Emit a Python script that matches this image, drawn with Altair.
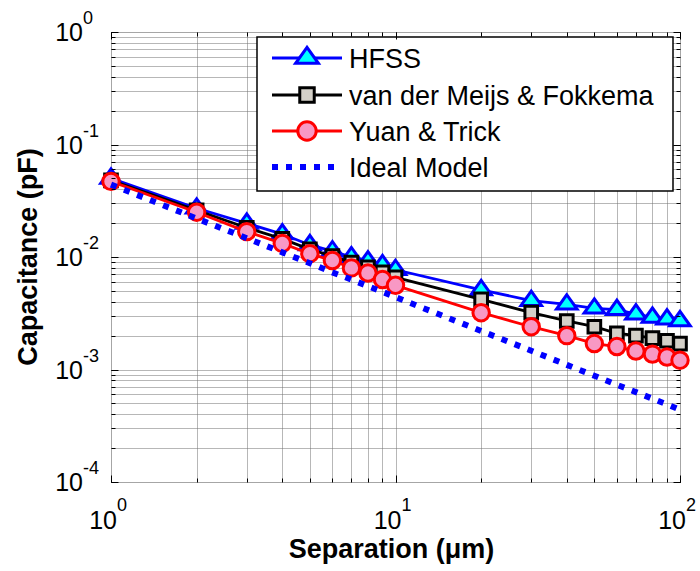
import altair as alt
import pandas as pd

# Capacitance vs. separation (log-log), one value per separation point
separation = [1, 2, 3, 4, 5, 6, 7, 8, 9, 10, 20, 30, 40, 50, 60, 70, 80, 90, 100]
hfss = [0.050, 0.0271, 0.0199, 0.0160, 0.0128, 0.0113, 0.0100, 0.0092, 0.0085, 0.0077,
        0.0051, 0.0041, 0.0038, 0.0035, 0.0034, 0.0031, 0.0029, 0.0028, 0.0027]
meijs = [0.048, 0.026, 0.0182, 0.0145, 0.0117, 0.0102, 0.0089, 0.0081, 0.0073, 0.0066,
         0.0042, 0.0032, 0.0027, 0.0024, 0.0021, 0.0020, 0.0019, 0.0018, 0.0017]
yuan = [0.047, 0.025, 0.0168, 0.0132, 0.0107, 0.0093, 0.0080, 0.0072, 0.0063, 0.0056,
        0.0032, 0.0024, 0.0020, 0.0017, 0.0016, 0.00146, 0.00137, 0.00129, 0.00121]
ideal = [0.044, 0.022, 0.0147, 0.011, 0.0088, 0.0073, 0.0063, 0.0055, 0.0049, 0.0044,
         0.0022, 0.00147, 0.0011, 0.00088, 0.00073, 0.00063, 0.00055, 0.00049, 0.00044]

series_names = ["HFSS", "van der Meijs & Fokkema", "Yuan & Trick", "Ideal Model"]

x_decades = [1, 10, 100]
x_exponents = ["0", "1", "2"]
y_decades = [1e-4, 1e-3, 1e-2, 1e-1, 1]
y_exponents = ["-4", "-3", "-2", "-1", "0"]

x_title = "Separation (\u03bcm)"
y_title = "Capacitance (pF)"

W, H = 569, 450
FONT = "Liberation Sans"
LINE_W = 2.8
EDGE_W = 3

x_scale = alt.Scale(type="log", domain=[1, 100], nice=False)
y_scale = alt.Scale(type="log", domain=[1e-4, 1], nice=False)

x_minor = [m * 10 ** e for e in range(0, 2) for m in range(1, 10)] + [100]
y_minor = [m * 10.0 ** e for e in range(-4, 0) for m in range(1, 10)] + [1]

TRIANGLE = "M0,-0.93L-1,0.47L1,0.47Z"


def frame(values):
    return pd.DataFrame({"s": separation, "c": values})


ideal_df = frame(ideal)

# grid lines at every decade subdivision
grid_layer = alt.Chart(ideal_df).mark_point(opacity=0).encode(
    x=alt.X("s:Q", scale=x_scale, title=None,
            axis=alt.Axis(orient="bottom", values=x_minor, grid=True, ticks=False,
                          labels=False, domain=False, gridColor="#6e6e6e",
                          gridDash=[1, 1], gridWidth=1, zindex=0)),
    y=alt.Y("c:Q", scale=y_scale, title=None,
            axis=alt.Axis(orient="left", values=y_minor, grid=True, ticks=False,
                          labels=False, domain=False, gridColor="#6e6e6e",
                          gridDash=[1, 1], gridWidth=1, zindex=0)),
)


def tick_layer(xo, yo, xv, yv, size):
    # inward ticks: axis pulled inside the frame by its own tick length
    common = dict(grid=False, labels=False, domain=False, ticks=True, tickSize=size,
                  tickColor="black", tickWidth=1, offset=-size, zindex=1)
    return alt.Chart(ideal_df).mark_point(opacity=0).encode(
        x=alt.X("s:Q", scale=x_scale, title=None, axis=alt.Axis(orient=xo, values=xv, **common)),
        y=alt.Y("c:Q", scale=y_scale, title=None, axis=alt.Axis(orient=yo, values=yv, **common)),
    )


tick_layers = [
    tick_layer("bottom", "left", x_minor, y_minor, 4),
    tick_layer("top", "right", x_minor, y_minor, 4),
    tick_layer("bottom", "left", x_decades, y_decades, 7),
    tick_layer("top", "right", x_decades, y_decades, 7),
]


def enc(chart):
    return chart.encode(
        x=alt.X("s:Q", scale=x_scale, axis=None),
        y=alt.Y("c:Q", scale=y_scale, axis=None),
    )


styles = [
    dict(line="#0000ff", shape=TRIANGLE, fill="#00ffff", stroke="#0000ff",
         size=420, lsize=520),
    dict(line="#000000", shape="square", fill="#d4d0c8", stroke="#000000",
         size=160, lsize=210),
    dict(line="#ff0000", shape="circle", fill="#f898c4", stroke="#ff0000",
         size=270, lsize=340),
]

data_layers = []
for values, sty in zip([hfss, meijs, yuan], styles):
    df = frame(values)
    data_layers.append(enc(alt.Chart(df).mark_line(color=sty["line"], strokeWidth=LINE_W)))
    data_layers.append(enc(alt.Chart(df).mark_point(
        shape=sty["shape"], size=sty["size"], fill=sty["fill"], stroke=sty["stroke"],
        strokeWidth=EDGE_W, opacity=1, fillOpacity=1, filled=False)))

data_layers.append(enc(alt.Chart(ideal_df).mark_line(
    color="#0000ff", strokeWidth=6, strokeDash=[6, 8])))

# decade labels written as 10 with a raised exponent
xl = pd.DataFrame({"v": x_decades, "e": x_exponents})
yl = pd.DataFrame({"v": y_decades, "e": y_exponents})

label_layers = [
    alt.Chart(xl).mark_text(text="10", align="right", baseline="middle", dx=6, dy=39,
                            font=FONT, fontSize=25, color="black").encode(
        x=alt.X("v:Q", scale=x_scale, axis=None), y=alt.value(H)),
    alt.Chart(xl).mark_text(align="left", baseline="middle", dx=6, dy=24,
                            font=FONT, fontSize=18, color="black").encode(
        x=alt.X("v:Q", scale=x_scale, axis=None), y=alt.value(H), text="e:N"),
    alt.Chart(yl).mark_text(text="10", align="right", baseline="middle", dx=-28, dy=1,
                            font=FONT, fontSize=25, color="black").encode(
        y=alt.Y("v:Q", scale=y_scale, axis=None), x=alt.value(0)),
    alt.Chart(yl).mark_text(align="left", baseline="middle", dx=-28, dy=-13,
                            font=FONT, fontSize=18, color="black").encode(
        y=alt.Y("v:Q", scale=y_scale, axis=None), x=alt.value(0), text="e:N"),
]

one = pd.DataFrame({"k": [0]})
title_layers = [
    alt.Chart(one).mark_text(text=x_title, align="center", baseline="middle", font=FONT,
                             fontSize=27, fontWeight="bold", color="black").encode(
        x=alt.value(W / 2 - 4), y=alt.value(H + 68)),
    alt.Chart(one).mark_text(text=y_title, align="center", baseline="middle", font=FONT,
                             fontSize=27, fontWeight="bold", color="black", angle=270).encode(
        x=alt.value(-82), y=alt.value(H / 2)),
]

# legend box
legend_rows = [26, 63, 99, 135]
legend_layers = [
    alt.Chart(one).mark_rect(fill="white", stroke="black", strokeWidth=1.5).encode(
        x=alt.value(146), x2=alt.value(562), y=alt.value(5), y2=alt.value(159))
]
for i, (name, row) in enumerate(zip(series_names, legend_rows)):
    if i < 3:
        sty = styles[i]
        legend_layers.append(alt.Chart(one).mark_rule(color=sty["line"], strokeWidth=LINE_W).encode(
            x=alt.value(161), x2=alt.value(231), y=alt.value(row)))
        legend_layers.append(alt.Chart(one).mark_point(
            shape=sty["shape"], size=sty["lsize"], fill=sty["fill"], stroke=sty["stroke"],
            strokeWidth=EDGE_W, opacity=1, fillOpacity=1).encode(
            x=alt.value(196), y=alt.value(row)))
    else:
        legend_layers.append(alt.Chart(one).mark_rule(
            color="#0000ff", strokeWidth=6, strokeDash=[6, 8]).encode(
            x=alt.value(161), x2=alt.value(231), y=alt.value(row)))
    legend_layers.append(alt.Chart(one).mark_text(
        text=name, align="left", baseline="middle", dy=2, font=FONT, fontSize=27,
        color="black").encode(x=alt.value(238), y=alt.value(row)))

chart = alt.layer(
    grid_layer, *data_layers, *tick_layers, *label_layers, *title_layers, *legend_layers
).resolve_axis(
    x="independent", y="independent"
).properties(
    width=W, height=H,
    autosize=alt.AutoSizeParams(type="none"),
    padding={"left": 111, "top": 32, "right": 20, "bottom": 89},
).configure_view(
    stroke="black", strokeWidth=2
).configure(background="white")

chart.save("out.html", embed_options={"renderer": "svg", "actions": False})
